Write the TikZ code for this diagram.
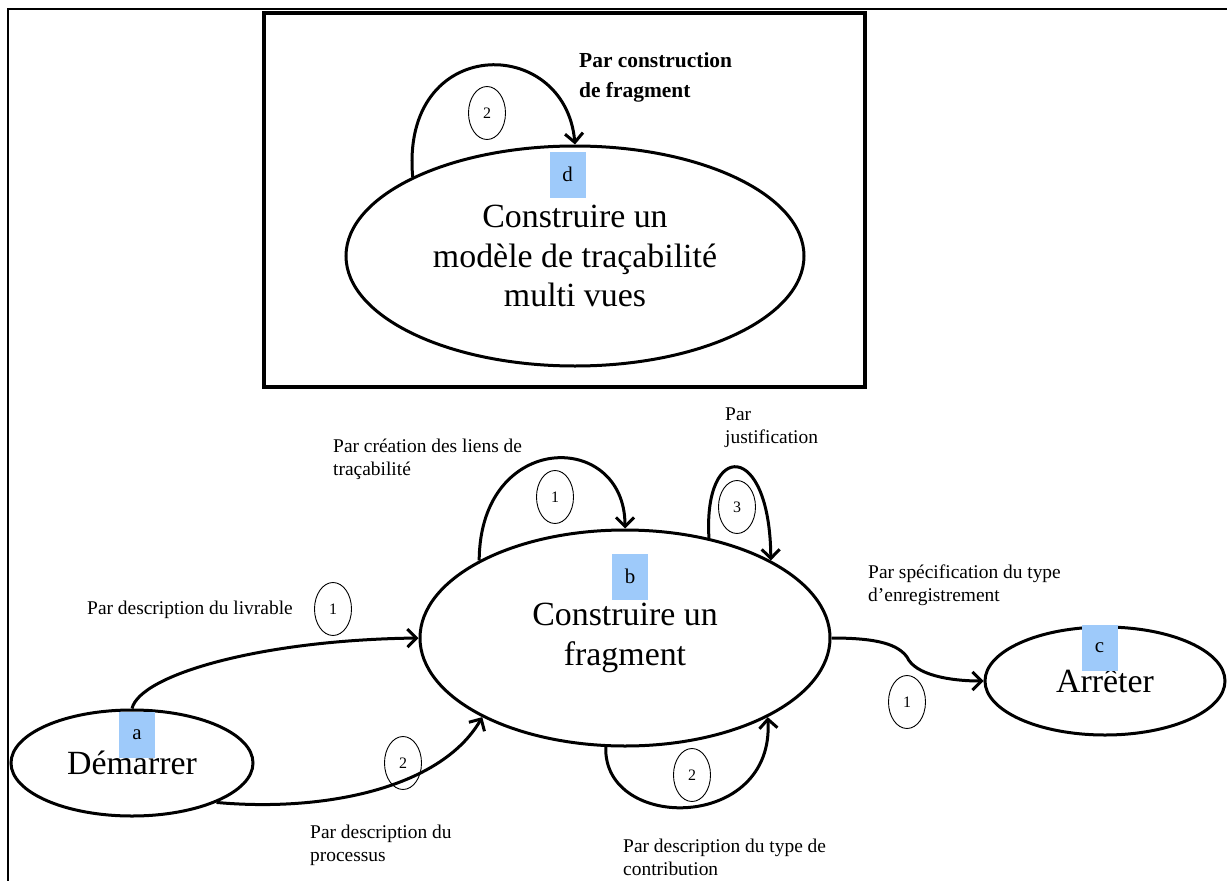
\documentclass[tikz,border=0pt]{standalone}
\usepackage{fontspec}
\setmainfont{Liberation Serif}
\usetikzlibrary{shapes.geometric, arrows.meta, positioning}
\definecolor{lettreblue}{RGB}{158,202,250}

\begin{document}
\begin{tikzpicture}[x=1bp, y=-1bp,
    etape/.style={ellipse, draw, line width=3bp, inner sep=0pt, align=center,
      font=\fontsize{34}{40}\selectfont},
    lettre/.style={fill=lettreblue, minimum width=36bp, minimum height=46bp,
      inner sep=0pt, font=\fontsize{21}{22}\selectfont},
    num/.style={ellipse, draw, line width=0.9bp, minimum width=37bp,
      minimum height=53bp, inner sep=0pt, font=\fontsize{16}{16}\selectfont},
    lbl/.style={anchor=west, align=left, inner sep=0pt,
      font=\fontsize{19.5}{23}\selectfont},
    fleche/.style={line width=3bp, -{Straight Barb[length=9bp, width=18bp]}}]

  \useasboundingbox (0,0) rectangle (1227,881);
  % cadre
  \draw[line width=2.5bp] (8,881) -- (8,9) -- (1227,9);
  \draw[line width=3.5bp] (264,13) rectangle (865,387);

  % etapes
  \node[etape, minimum width=458bp, minimum height=220bp] (d) at (575,256)
    {Construire un\\modèle de traçabilité\\multi vues};
  \node[etape, minimum width=410bp, minimum height=216bp] (b) at (625,638)
    {Construire un\\fragment};
  \node[etape, minimum width=242bp, minimum height=106bp] (a) at (132,763)
    {Démarrer};
  \node[etape, minimum width=240bp, minimum height=108bp] (c) at (1105,681)
    {Arrêter};

  % lettres
  \node[lettre] (ld) at (567.5,174.5) {d};
  \node[lettre] (lb) at (630,576.5) {b};
  \node[lettre] (la) at (137,734.5) {a};
  \node[lettre] (lc) at (1099.5,648) {c};

  % strategies
  \draw[fleche] (d.154) .. controls (400,34) and (565,34) .. (d.north);
  \draw[fleche] (a.north) .. controls (140,675) and (260,640) .. (b.west);
  \draw[fleche] (a.-25) .. controls (320,812) and (440,790) .. (b.-151);
  \draw[fleche] (b.152) .. controls (480,430) and (625,430) .. (b.north);
  \draw[fleche] (b.50) .. controls (703,440) and (770,440) .. (b.28);
  \draw[fleche] (b.-100) .. controls (603,832) and (775,832) .. (b.-29);
  \draw[fleche] (b.east) .. controls (880,638) and (898,645) .. (907,657)
    .. controls (915,675) and (950,681) .. (c.west);

  % numeros
  \node[num] (n2d) at (487,113) {2};
  \node[num] (n1h) at (555,497) {1};
  \node[num] (n3) at (737,507) {3};
  \node[num] (n1a) at (333,609) {1};
  \node[num] (n2a) at (403,763) {2};
  \node[num] (n2b) at (692,775) {2};
  \node[num] (n1c) at (907,702) {1};

  % intitules
  \node[lbl, font=\fontsize{21.5}{30}\selectfont\bfseries] (tfrag) at (579,77)
    {Par construction\\de fragment};
  \node[lbl] (tcrea) at (333,459) {Par création des liens de\\traçabilité};
  \node[lbl] (tjust) at (725,428) {Par\\justification};
  \node[lbl] (tspec) at (868,585) {Par spécification du type\\d’enregistrement};
  \node[lbl] (tliv) at (87,610) {Par description du livrable};
  \node[lbl] (tproc) at (310,845) {Par description du\\processus};
  \node[lbl] (tcontr) at (623,857) {Par description du type de\\contribution};
\end{tikzpicture}
\end{document}
